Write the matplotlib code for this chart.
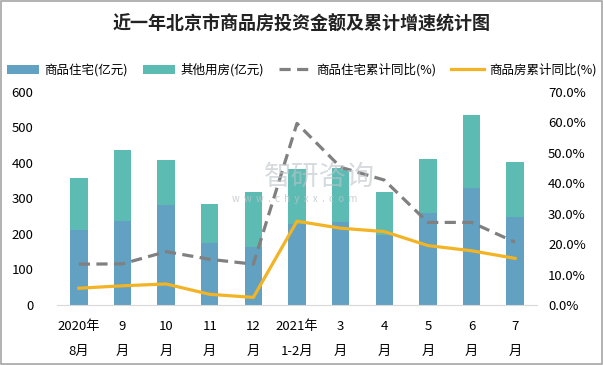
import matplotlib
matplotlib.use('Agg')
import matplotlib.pyplot as plt
import numpy as np

plt.rcParams['font.family'] = ['Noto Sans CJK SC', 'DejaVu Sans']

# data
months = ['2020年\n8月', '9\n月', '10\n月', '11\n月', '12\n月', '2021年\n1-2月',
          '3\n月', '4\n月', '5\n月', '6\n月', '7\n月']
residential = [211, 236, 281, 174, 164, 227, 234, 196, 259, 330, 248]
total = [356, 436, 408, 284, 318, 383, 386, 318, 411, 535, 402]
other = [t - r for t, r in zip(total, residential)]
res_growth = [13.4, 13.5, 17.5, 15.0, 13.4, 59.6, 45.2, 41.0, 27.1, 27.1, 20.6]
all_growth = [5.5, 6.3, 6.9, 3.5, 2.5, 27.5, 25.2, 24.1, 19.5, 17.8, 15.3]

c_res = '#62A1C1'
c_other = '#5CBCB4'
c_gray = '#808080'
c_orange = '#F2B325'

fig = plt.figure(figsize=(6.03, 3.65), dpi=100)
ax = fig.add_axes([0.0945, 0.1644, 0.796, 0.5844])
x = np.arange(len(months))

b1 = ax.bar(x, residential, width=0.4, color=c_res, label='商品住宅(亿元)', zorder=2)
b2 = ax.bar(x, other, width=0.4, bottom=residential, color=c_other, label='其他用房(亿元)', zorder=2)
ax.set_xlim(-0.5, 10.5)
ax.set_ylim(0, 600)
ax.set_yticks(range(0, 601, 100))
ax.set_xticks(x)
ax.set_xticklabels(months, linespacing=2.2, fontsize=9)
ax.tick_params(length=0, labelsize=9.5)
ax.tick_params(axis='y', pad=17)
ax.tick_params(axis='x', pad=11)
for s in ['top', 'right', 'left']:
    ax.spines[s].set_visible(False)
ax.spines['bottom'].set_color('#D9D9D9')

ax2 = ax.twinx()
l1, = ax2.plot(x, res_growth, color=c_gray, lw=2.3, dashes=(3.5, 2), label='商品住宅累计同比(%)', zorder=3)
l2, = ax2.plot(x, all_growth, color=c_orange, lw=2.3, label='商品房累计同比(%)', zorder=3)
ax2.set_ylim(0, 70)
ax2.set_yticks(range(0, 71, 10))
ax2.set_yticklabels(['%.1f%%' % v for v in range(0, 71, 10)])
ax2.tick_params(length=0, labelsize=9.5, pad=8)
for s in ['top', 'right', 'left', 'bottom']:
    ax2.spines[s].set_visible(False)

# watermark
fig.text(0.437, 0.516, '智研咨询', fontsize=20, color='#BCC3C8', alpha=0.6, ha='left', va='center')
fig.text(0.385, 0.455, 'w  w  w  .  c  h  y  x  x  .  c  o  m', fontsize=7, color='#BCC3C8', alpha=0.8,
         ha='left', va='center')

fig.text(0.5, 0.935, '近一年北京市商品房投资金额及累计增速统计图', ha='center', va='center',
         fontsize=13, fontweight='bold', color='#222222')

fig.legend(handles=[b1, b2, l1, l2], loc='center', bbox_to_anchor=(0.5, 0.808), ncol=4,
           frameon=False, fontsize=9, handlelength=2.6, columnspacing=1.2, handletextpad=0.4)

fig.patches.append(plt.Rectangle((0.001, 0.002), 0.997, 0.995, transform=fig.transFigure,
                                 fill=False, edgecolor='#A6A6A6', lw=1.2))

fig.savefig('out.png', dpi=100)
